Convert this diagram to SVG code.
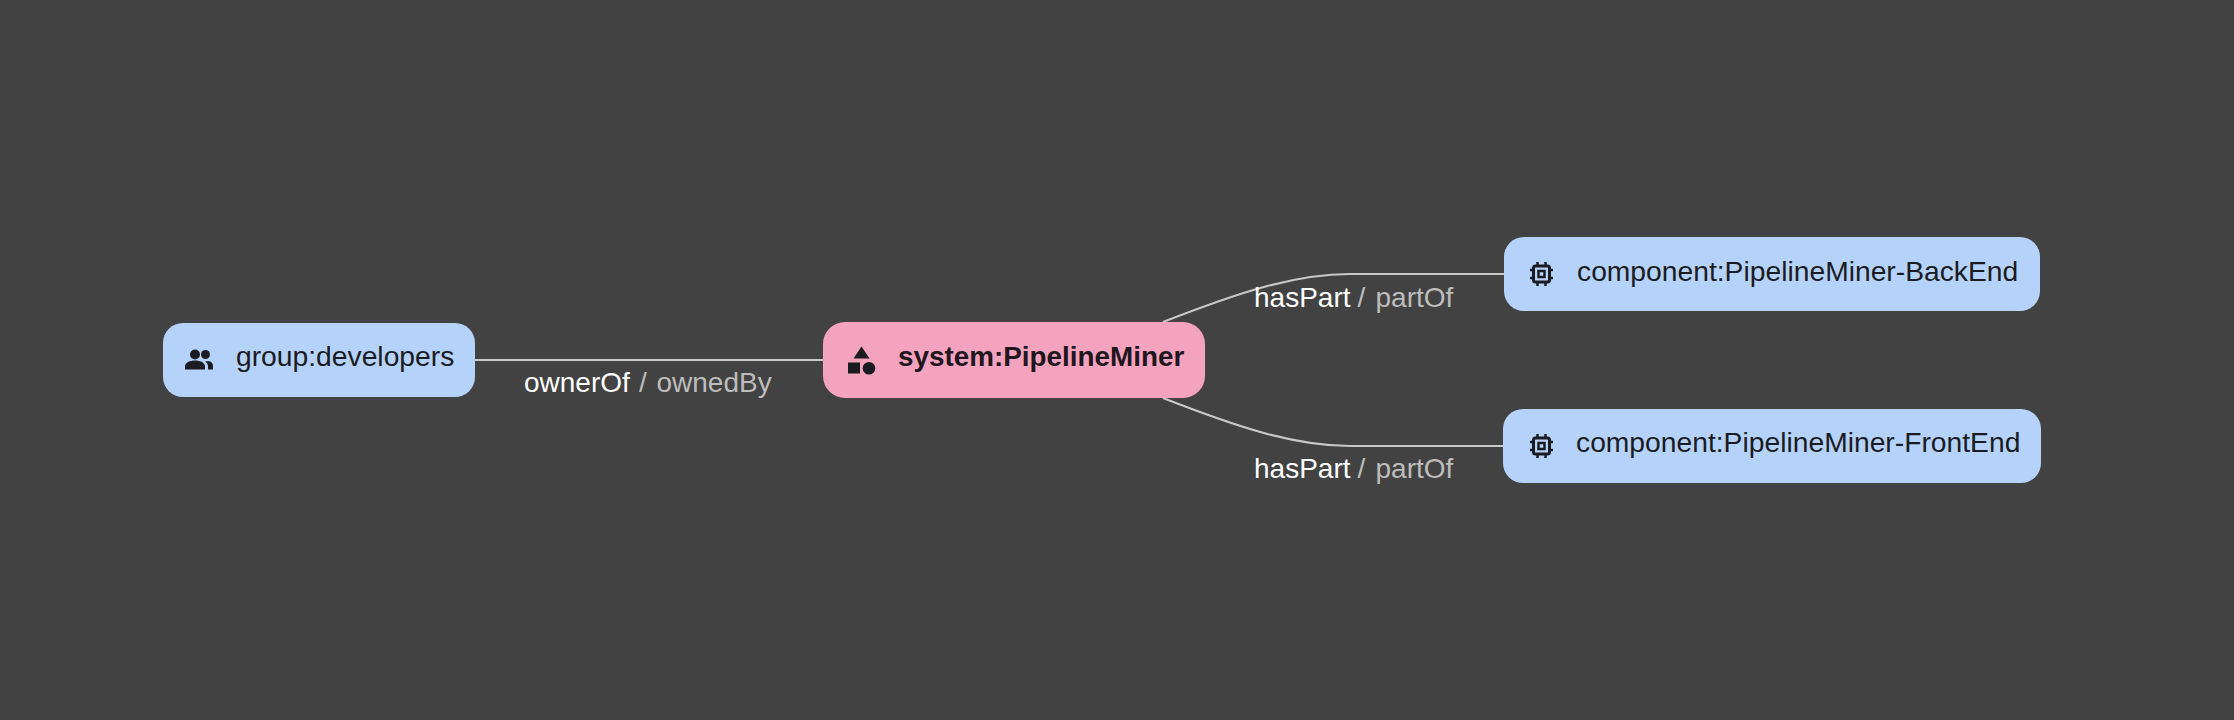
<svg xmlns="http://www.w3.org/2000/svg" width="2234" height="720" viewBox="0 0 2234 720">
<style>
text{font-family:"Liberation Sans",Arial,sans-serif}
.n{font-size:28.25px;fill:#1a1c22}
.b{font-size:27.85px;font-weight:700;fill:#1f1620}
.box{fill:#b5d2fb}
.sys{fill:#f4a3bf}
.e{fill:none;stroke:#c9c9c7;stroke-width:2}
.l{font-size:28px;fill:#fff}
.l tspan{fill:#bdbdbb}
.i{fill:#1a1c22}
.c{fill:none;stroke:#1a1c22;stroke-width:3}
.c2{fill:none;stroke:#1a1c22;stroke-width:2.500}
</style>
<rect width="2234" height="720" fill="#424242"/>
<g id="connectors">
<path class="e" d="M475 360H823"/>
<path class="e" d="M1163 322C1240 292 1295 274 1350 274H1504"/>
<path class="e" d="M1163 398C1240 428 1295 446 1350 446H1503"/>
</g>
<g id="edge-labels">
<text class="l" x="524" y="392">ownerOf<tspan x="639">/</tspan><tspan x="656.500">ownedBy</tspan></text>
<text class="l" x="1254" y="307">hasPart<tspan x="1357.500">/</tspan><tspan x="1375.500">partOf</tspan></text>
<text class="l" x="1254" y="478">hasPart<tspan x="1357.500">/</tspan><tspan x="1375.500">partOf</tspan></text>
</g>
<g id="group-developers">
<rect class="box" x="163" y="323" width="312" height="74" rx="20"/>
<g class="i"><circle cx="195" cy="354.500" r="5"/><circle cx="205.500" cy="354.500" r="4.500"/><path d="M185 369.500v-3c0-4 5-6 10-6s10 2 10 6v3zM208 369.500v-3c0-2-1-4-3-5 6-1 8 1 8 5v3z"/></g>
<text class="n" x="236" y="366">group:developers</text>
</g>
<g id="system-PipelineMiner">
<rect class="sys" x="823" y="322" width="382" height="76" rx="22"/>
<g class="i"><path d="M861.500 346.500l8 12h-16z"/><rect x="848" y="362.500" width="12" height="11"/><circle cx="869" cy="368.300" r="6.300"/></g>
<text class="b" x="898" y="366">system:PipelineMiner</text>
</g>
<g id="component-PipelineMiner-BackEnd">
<rect class="box" x="1504" y="237" width="536" height="74" rx="20"/>
<path class="c2" d="M1534 270h-4M1534 278h-4M1549 270h4M1549 278h4M1537.500 266v-4M1545.500 266v-4M1537.500 282v4M1545.500 282v4"/>
<rect class="c" x="1533.500" y="266" width="16" height="16" rx="2"/>
<rect class="c2" x="1538.500" y="271" width="6" height="6"/>
<text class="n" x="1577" y="281">component:PipelineMiner-BackEnd</text>
</g>
<g id="component-PipelineMiner-FrontEnd">
<rect class="box" x="1503" y="409" width="538" height="74" rx="20"/>
<path class="c2" d="M1534 442h-4M1534 450h-4M1549 442h4M1549 450h4M1537.500 438v-4M1545.500 438v-4M1537.500 454v4M1545.500 454v4"/>
<rect class="c" x="1533.500" y="438" width="16" height="16" rx="2"/>
<rect class="c2" x="1538.500" y="443" width="6" height="6"/>
<text class="n" x="1576" y="452">component:PipelineMiner-FrontEnd</text>
</g>
</svg>
